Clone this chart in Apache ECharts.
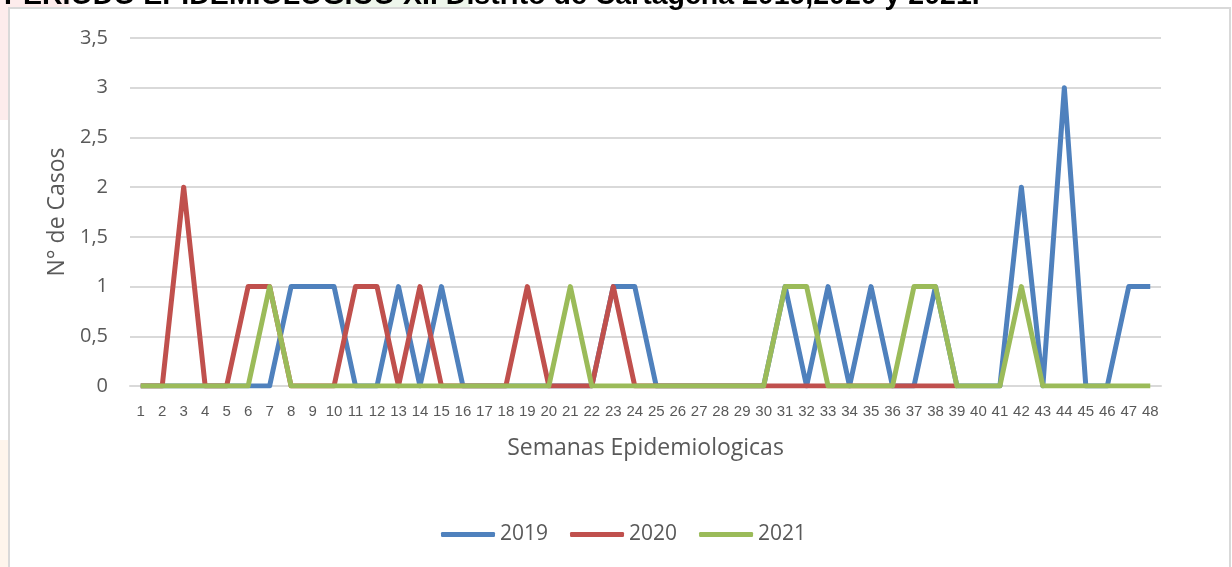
<!DOCTYPE html>
<html>
<head>
<meta charset="utf-8">
<title>Semanas Epidemiologicas</title>
<script src="https://cdn.jsdelivr.net/npm/echarts@6/dist/echarts.min.js"></script>
<style>
  html, body { margin: 0; padding: 0; background: #fff; }
  #chart { width: 1232px; height: 567px; }
</style>
</head>
<body>
<div id="chart"></div>
<script>
// semanas epidemiologicas 1..48
const semanas = ['1','2','3','4','5','6','7','8','9','10','11','12','13','14','15','16','17','18','19','20','21','22','23','24',
  '25','26','27','28','29','30','31','32','33','34','35','36','37','38','39','40','41','42','43','44','45','46','47','48']

const casos2019 = [0,0,0,0,0,0,0,1,1,1,0,0,1,0,1,0,0,0,0,0,0,0,1,1,
  0,0,0,0,0,0,1,0,1,0,1,0,0,1,0,0,0,2,0,3,0,0,1,1]
// 2020 solo llega hasta la semana 39
const casos2020 = [0,0,2,0,0,1,1,0,0,0,1,1,0,1,0,0,0,0,1,0,0,0,1,0,
  0,0,0,0,0,0,0,0,0,0,0,0,0,0,0]
const casos2021 = [0,0,0,0,0,0,1,0,0,0,0,0,0,0,0,0,0,0,0,0,1,0,0,0,
  0,0,0,0,0,0,1,1,0,0,0,0,1,1,0,0,0,1,0,0,0,0,0,0]

const years = ['2019', '2020', '2021']
const colores = ['#4F81BD', '#C0504D', '#9BBB59']

const titulo = 'PERIODO EPIDEMIOLOGICO XI. Distrito de Cartagena 2019,2020 y 2021.'

const chart = echarts.init(document.getElementById('chart'))

function linea (name, data, color) {
  return {
    name: name,
    type: 'line',
    data: data,
    showSymbol: false,
    symbol: 'none',
    lineStyle: { width: 5, color: color, cap: 'butt', join: 'round' },
    itemStyle: { color: color },
    emphasis: { disabled: true },
    animation: false
  }
}

chart.setOption({
  animation: false,
  textStyle: { fontFamily: 'Open Sans' },
  graphic: [
    // fondo de la diapositiva
    { type: 'rect', shape: { x: 0, y: 0, width: 70, height: 120 }, style: { fill: '#FDECEC' }, z: -10 },
    { type: 'rect', shape: { x: 330, y: 0, width: 140, height: 8 }, style: { fill: '#EEF6EC' }, z: -10 },
    { type: 'rect', shape: { x: 0, y: 440, width: 9, height: 127 }, style: { fill: '#FEF5EC' }, z: -10 },
    // caja del grafico
    { type: 'rect', shape: { x: 9, y: 8, width: 1221, height: 570 },
      style: { fill: '#fff', stroke: '#D9D9D9', lineWidth: 2 }, z: -5 },
    { type: 'text', left: 4, top: -18,
      style: { text: titulo, font: 'bold 28.5px "Liberation Sans"', fill: '#000' }, z: 10 }
  ],
  grid: { left: 130, right: 71, top: 38, bottom: 181 },
  legend: {
    data: years,
    bottom: 17,
    left: 436,
    icon: 'roundRect',
    itemWidth: 54,
    itemHeight: 5,
    itemGap: 22,
    textStyle: { color: '#595959', fontSize: 21, fontFamily: 'Open Sans' }
  },
  xAxis: {
    type: 'category',
    data: semanas,
    boundaryGap: true,
    name: 'Semanas Epidemiologicas',
    nameLocation: 'middle',
    nameGap: 51,
    nameTextStyle: { color: '#595959', fontSize: 23 },
    axisLine: { lineStyle: { color: '#D9D9D9', width: 2 } },
    axisTick: { show: false },
    axisLabel: { interval: 0, color: '#595959', fontSize: 15, fontFamily: 'Liberation Sans', margin: 18 }
  },
  yAxis: {
    type: 'value',
    min: 0,
    max: 3.5,
    interval: 0.5,
    name: 'N° de Casos',
    nameLocation: 'middle',
    nameGap: 60,
    nameTextStyle: { color: '#595959', fontSize: 23 },
    axisLine: { show: false },
    axisTick: { show: false },
    axisLabel: {
      color: '#595959',
      fontSize: 20,
      margin: 22,
      formatter: function (v) { return String(v).replace('.', ',') }
    },
    splitLine: { lineStyle: { color: '#D9D9D9', width: 2 } }
  },
  series: [
    linea(years[0], casos2019, colores[0]),
    linea(years[1], casos2020, colores[1]),
    linea(years[2], casos2021, colores[2])
  ]
})
</script>
</body>
</html>
